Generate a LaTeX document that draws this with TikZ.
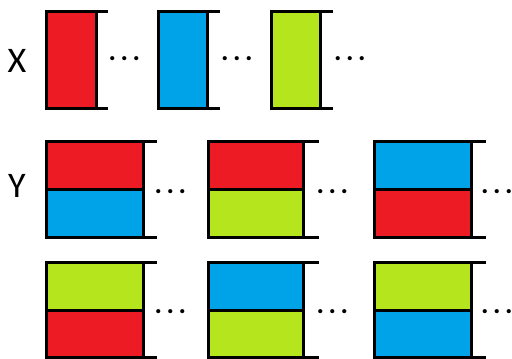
\documentclass[tikz,border=0pt]{standalone}
\usepackage{fontspec}
\setmainfont{Carlito}
\definecolor{pred}{HTML}{ED1C24}
\definecolor{pblue}{HTML}{00A2E8}
\definecolor{pgreen}{HTML}{B5E61D}
\tikzset{
  frameline/.style={line width=3pt, line cap=rect},
  rowlabel/.style={font=\fontsize{36}{36}\selectfont, inner sep=0pt},
  dotstyle/.style={font=\fontsize{28}{28}\selectfont\bfseries, inner sep=0pt, anchor=base west},
}
% single cell: left, right, bracket end, top, bottom, colour
\newcommand\singlecell[6]{%
  \fill[#6] (#1,#4) rectangle (#2,#5);
  \draw[frameline] (#3,#4) -- (#1,#4) -- (#1,#5) -- (#3,#5);
  \draw[frameline] (#2,#4) -- (#2,#5);
}
% double cell: left, right, bracket end, top, mid, bottom, top colour, bottom colour
\newcommand\doublecell[8]{%
  \fill[#7] (#1,#4) rectangle (#2,#5);
  \fill[#8] (#1,#5) rectangle (#2,#6);
  \draw[frameline] (#3,#4) -- (#1,#4) -- (#1,#6) -- (#3,#6);
  \draw[frameline] (#2,#4) -- (#2,#6);
  \draw[frameline] (#1,#5) -- (#2,#5);
}
\newcommand\dotrow[3]{% name, x start, y (baseline)
  \node[dotstyle] (#1) at (#2,#3) {.\kern4.5pt.\kern4.5pt.\kern-3pt};
}
\begin{document}
\begin{tikzpicture}[x=1pt,y=-1pt]
\useasboundingbox (0,0) rectangle (512,359);
\node[rowlabel] (X) at (17,61) {X};
\node[rowlabel] (Y) at (17,186) {Y};
% X row
\singlecell{46}{96}{106}{11}{108}{pred}
\singlecell{158}{207}{218}{11}{108}{pblue}
\singlecell{271}{320}{331}{11}{108}{pgreen}
\dotrow{d1}{108.5}{60}
\dotrow{d2}{221}{60}
\dotrow{d3}{334}{60}
% Y row 1
\doublecell{46}{143}{155}{141}{189}{237}{pred}{pblue}
\doublecell{208}{303}{317}{141}{189}{237}{pred}{pgreen}
\doublecell{374}{471}{484}{141}{189}{237}{pblue}{pred}
\dotrow{d4}{154.5}{193}
\dotrow{d5}{316.5}{193}
\dotrow{d6}{481}{193}
% Y row 2
\doublecell{46}{143}{155}{262}{310}{357}{pgreen}{pred}
\doublecell{208}{303}{317}{262}{310}{357}{pblue}{pgreen}
\doublecell{374}{471}{484}{262}{310}{357}{pgreen}{pblue}
\dotrow{d7}{154.5}{313}
\dotrow{d8}{316.5}{313}
\dotrow{d9}{481}{313}
\end{tikzpicture}
\end{document}
